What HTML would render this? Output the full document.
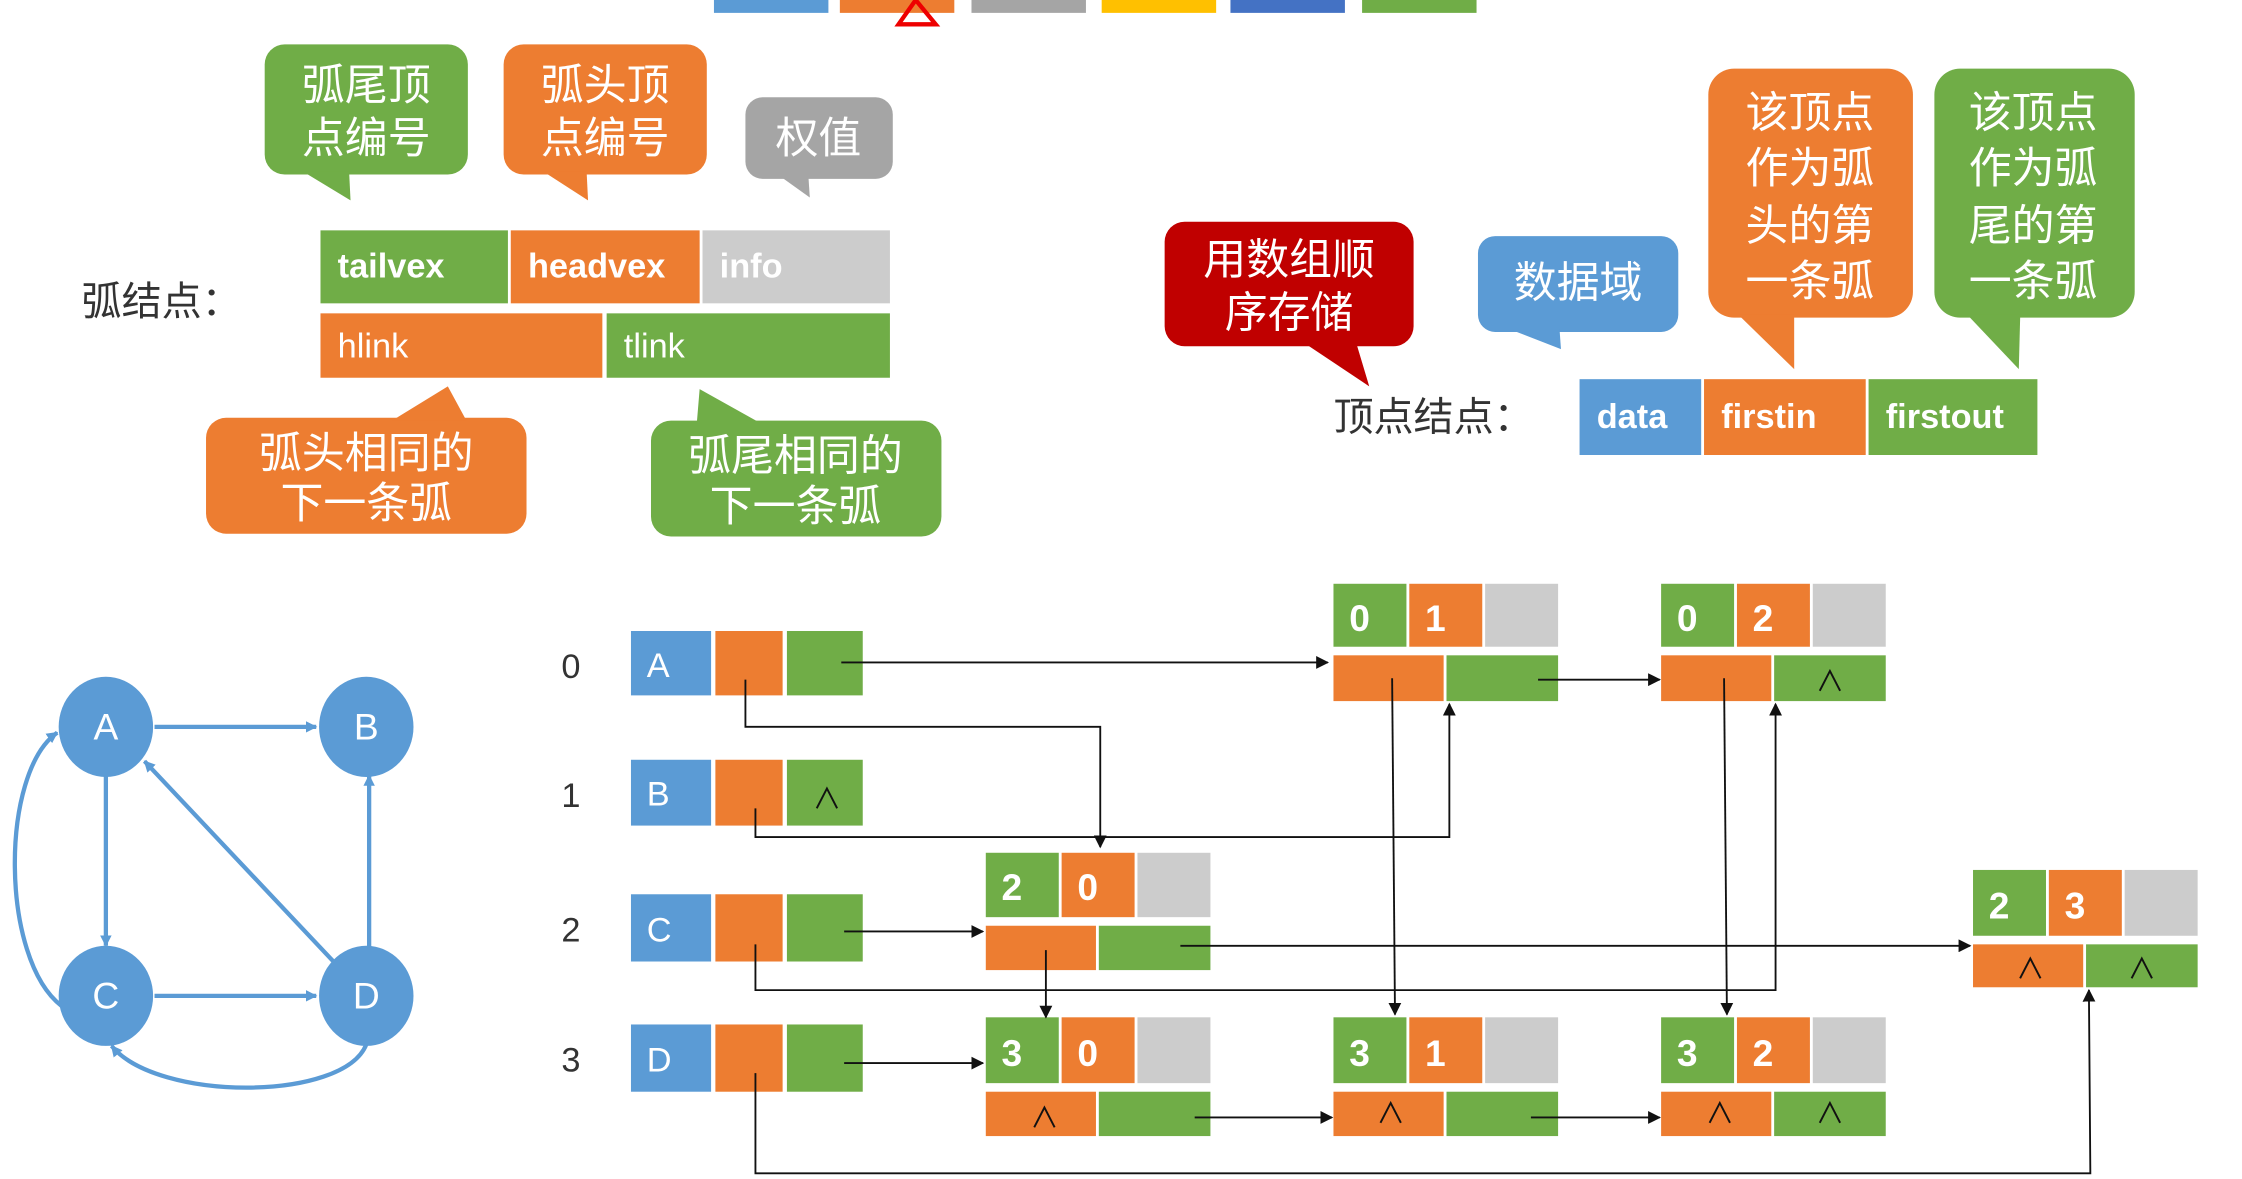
<!DOCTYPE html>
<html><head><meta charset="utf-8">
<style>
html,body{margin:0;padding:0;background:#fff;}
svg{display:block;}
text{font-family:"Liberation Sans","Noto Sans CJK SC",sans-serif;}
</style></head>
<body>
<svg width="2242" height="1179" viewBox="0 0 1567 824" preserveAspectRatio="none" xmlns="http://www.w3.org/2000/svg">
<defs>
<marker id="ar" viewBox="0 0 10 10" refX="9" refY="5" markerWidth="9" markerHeight="9" markerUnits="userSpaceOnUse" orient="auto">
<path d="M0,0 L10,5 L0,10 z" fill="#111"/></marker>
<marker id="ab" viewBox="0 0 10 10" refX="9" refY="5" markerWidth="8" markerHeight="8" markerUnits="userSpaceOnUse" orient="auto">
<path d="M0,0 L10,5 L0,10 z" fill="#5b9bd5"/></marker>
</defs>
<rect width="1567" height="824" fill="#fff"/>
<g>
<rect x="499" y="0" width="80" height="9" fill="#5b9bd5"/>
<rect x="587" y="0" width="80" height="9" fill="#ed7d31"/>
<rect x="679" y="0" width="80" height="9" fill="#a5a5a5"/>
<rect x="770" y="0" width="80" height="9" fill="#ffc000"/>
<rect x="860" y="0" width="80" height="9" fill="#4472c4"/>
<rect x="952" y="0" width="80" height="9" fill="#70ad47"/>
<path d="M628,17 L640,0 L654,17 Z" fill="none" stroke="#e00" stroke-width="3"/>
</g>

<g fill="#fff" font-size="30" text-anchor="middle">
<rect x="185" y="31" width="142" height="91" rx="14" fill="#70ad47"/>
<polygon points="212,120 244,120 245,140" fill="#70ad47"/>
<text x="256" y="70">弧尾顶</text><text x="256" y="107">点编号</text>

<rect x="352" y="31" width="142" height="91" rx="14" fill="#ed7d31"/>
<polygon points="380,120 410,120 411,140" fill="#ed7d31"/>
<text x="423" y="70">弧头顶</text><text x="423" y="107">点编号</text>

<rect x="521" y="68" width="103" height="57" rx="12" fill="#a5a5a5"/>
<polygon points="545,123 565,123 566,138" fill="#a5a5a5"/>
<text x="572" y="107">权值</text>

<rect x="144" y="292" width="224" height="81" rx="14" fill="#ed7d31"/>
<polygon points="274,294 326,294 313,270" fill="#ed7d31"/>
<text x="256" y="327">弧头相同的</text><text x="256" y="362">下一条弧</text>

<rect x="455" y="294" width="203" height="81" rx="14" fill="#70ad47"/>
<polygon points="487,296 532,296 489,272" fill="#70ad47"/>
<text x="556" y="329">弧尾相同的</text><text x="556" y="364">下一条弧</text>
</g>

<text x="57" y="220" font-size="28" fill="#333">弧结点：</text>
<g font-size="24" fill="#fff" font-weight="bold">
<rect x="224" y="161" width="131" height="51" fill="#70ad47"/>
<rect x="357" y="161" width="132" height="51" fill="#ed7d31"/>
<rect x="491" y="161" width="131" height="51" fill="#cccccc"/>
<text x="236" y="194">tailvex</text>
<text x="369" y="194">headvex</text>
<text x="503" y="194">info</text>
</g>
<g font-size="24" fill="#fff">
<rect x="224" y="219" width="197" height="45" fill="#ed7d31"/>
<rect x="424" y="219" width="198" height="45" fill="#70ad47"/>
<text x="236" y="250">hlink</text>
<text x="436" y="250">tlink</text>
</g>

<g fill="#fff" font-size="30" text-anchor="middle">
<rect x="814" y="155" width="174" height="87" rx="14" fill="#c00000"/>
<polygon points="912,240 948,240 957,270" fill="#c00000"/>
<text x="901" y="192">用数组顺</text><text x="901" y="229">序存储</text>

<rect x="1033" y="165" width="140" height="67" rx="12" fill="#5b9bd5"/>
<polygon points="1055,230 1090,230 1091,244" fill="#5b9bd5"/>
<text x="1103" y="208">数据域</text>

<rect x="1194" y="48" width="143" height="174" rx="18" fill="#ed7d31"/>
<polygon points="1215,220 1254,220 1254,258" fill="#ed7d31"/>
<text x="1265" y="89">该顶点</text><text x="1265" y="128">作为弧</text><text x="1265" y="168">头的第</text><text x="1265" y="207">一条弧</text>

<rect x="1352" y="48" width="140" height="174" rx="18" fill="#70ad47"/>
<polygon points="1375,220 1412,220 1411,258" fill="#70ad47"/>
<text x="1421" y="89">该顶点</text><text x="1421" y="128">作为弧</text><text x="1421" y="168">尾的第</text><text x="1421" y="207">一条弧</text>
</g>
<text x="932" y="301" font-size="28" fill="#333">顶点结点：</text>
<g font-size="24" fill="#fff" font-weight="bold">
<rect x="1104" y="265" width="85" height="53" fill="#5b9bd5"/>
<rect x="1191" y="265" width="113" height="53" fill="#ed7d31"/>
<rect x="1306" y="265" width="118" height="53" fill="#70ad47"/>
<text x="1116" y="299">data</text>
<text x="1203" y="299">firstin</text>
<text x="1318" y="299">firstout</text>
</g>

<g stroke="#5b9bd5" stroke-width="3" fill="none">
<line x1="108" y1="508" x2="221" y2="508" marker-end="url(#ab)"/>
<line x1="74" y1="542" x2="74" y2="661" marker-end="url(#ab)"/>
<line x1="234" y1="673" x2="101" y2="532" marker-end="url(#ab)"/>
<line x1="258" y1="662" x2="258" y2="542" marker-end="url(#ab)"/>
<line x1="108" y1="696" x2="221" y2="696" marker-end="url(#ab)"/>
<path d="M43,703 C0,670 0,540 40,512" marker-end="url(#ab)"/>
<path d="M256,730 C240,770 110,770 78,731" marker-end="url(#ab)"/>
</g>
<g fill="#5b9bd5">
<ellipse cx="74" cy="508" rx="33" ry="35"/>
<ellipse cx="256" cy="508" rx="33" ry="35"/>
<ellipse cx="74" cy="696" rx="33" ry="35"/>
<ellipse cx="256" cy="696" rx="33" ry="35"/>
</g>
<g fill="#fff" font-size="26" text-anchor="middle">
<text x="74" y="517">A</text><text x="256" y="517">B</text>
<text x="74" y="705">C</text><text x="256" y="705">D</text>
</g>

<g font-size="24" fill="#333" text-anchor="middle">
<text x="399" y="474">0</text><text x="399" y="564">1</text>
<text x="399" y="658">2</text><text x="399" y="749">3</text>
</g>

<g>
<rect x="441" y="441" width="56" height="45" fill="#5b9bd5"/><rect x="500" y="441" width="47" height="45" fill="#ed7d31"/><rect x="550" y="441" width="53" height="45" fill="#70ad47"/>
<rect x="441" y="531" width="56" height="46" fill="#5b9bd5"/><rect x="500" y="531" width="47" height="46" fill="#ed7d31"/><rect x="550" y="531" width="53" height="46" fill="#70ad47"/>
<rect x="441" y="625" width="56" height="47" fill="#5b9bd5"/><rect x="500" y="625" width="47" height="47" fill="#ed7d31"/><rect x="550" y="625" width="53" height="47" fill="#70ad47"/>
<rect x="441" y="716" width="56" height="47" fill="#5b9bd5"/><rect x="500" y="716" width="47" height="47" fill="#ed7d31"/><rect x="550" y="716" width="53" height="47" fill="#70ad47"/>
</g>
<g fill="#fff" font-size="24">
<text x="452" y="473">A</text><text x="452" y="563">B</text><text x="452" y="658">C</text><text x="452" y="749">D</text>
</g>
<text x="578" y="565" font-size="20" fill="#111" text-anchor="middle">∧</text>

<g>
<rect x="932" y="408" width="51" height="44" fill="#70ad47"/><rect x="985" y="408" width="51" height="44" fill="#ed7d31"/><rect x="1038" y="408" width="51" height="44" fill="#cccccc"/>
<rect x="932" y="458" width="77" height="32" fill="#ed7d31"/><rect x="1011" y="458" width="78" height="32" fill="#70ad47"/>
<rect x="1161" y="408" width="51" height="44" fill="#70ad47"/><rect x="1214" y="408" width="51" height="44" fill="#ed7d31"/><rect x="1267" y="408" width="51" height="44" fill="#cccccc"/>
<rect x="1161" y="458" width="77" height="32" fill="#ed7d31"/><rect x="1240" y="458" width="78" height="32" fill="#70ad47"/>
<rect x="689" y="596" width="51" height="45" fill="#70ad47"/><rect x="742" y="596" width="51" height="45" fill="#ed7d31"/><rect x="795" y="596" width="51" height="45" fill="#cccccc"/>
<rect x="689" y="647" width="77" height="31" fill="#ed7d31"/><rect x="768" y="647" width="78" height="31" fill="#70ad47"/>
<rect x="1379" y="608" width="51" height="46" fill="#70ad47"/><rect x="1432" y="608" width="51" height="46" fill="#ed7d31"/><rect x="1485" y="608" width="51" height="46" fill="#cccccc"/>
<rect x="1379" y="660" width="77" height="30" fill="#ed7d31"/><rect x="1458" y="660" width="78" height="30" fill="#70ad47"/>
<rect x="689" y="711" width="51" height="46" fill="#70ad47"/><rect x="742" y="711" width="51" height="46" fill="#ed7d31"/><rect x="795" y="711" width="51" height="46" fill="#cccccc"/>
<rect x="689" y="763" width="77" height="31" fill="#ed7d31"/><rect x="768" y="763" width="78" height="31" fill="#70ad47"/>
<rect x="932" y="711" width="51" height="46" fill="#70ad47"/><rect x="985" y="711" width="51" height="46" fill="#ed7d31"/><rect x="1038" y="711" width="51" height="46" fill="#cccccc"/>
<rect x="932" y="763" width="77" height="31" fill="#ed7d31"/><rect x="1011" y="763" width="78" height="31" fill="#70ad47"/>
<rect x="1161" y="711" width="51" height="46" fill="#70ad47"/><rect x="1214" y="711" width="51" height="46" fill="#ed7d31"/><rect x="1267" y="711" width="51" height="46" fill="#cccccc"/>
<rect x="1161" y="763" width="77" height="31" fill="#ed7d31"/><rect x="1240" y="763" width="78" height="31" fill="#70ad47"/>
</g>
<g fill="#fff" font-size="26" font-weight="bold">
<text x="943" y="441">0</text><text x="996" y="441">1</text>
<text x="1172" y="441">0</text><text x="1225" y="441">2</text>
<text x="700" y="629">2</text><text x="753" y="629">0</text>
<text x="1390" y="642">2</text><text x="1443" y="642">3</text>
<text x="700" y="745">3</text><text x="753" y="745">0</text>
<text x="943" y="745">3</text><text x="996" y="745">1</text>
<text x="1172" y="745">3</text><text x="1225" y="745">2</text>
</g>
<g fill="#111" font-size="20" text-anchor="middle">
<text x="1279" y="483">∧</text>
<text x="1419" y="684">∧</text><text x="1497" y="684">∧</text>
<text x="730" y="788">∧</text>
<text x="972" y="785">∧</text>
<text x="1202" y="785">∧</text><text x="1279" y="785">∧</text>
</g>

<g stroke="#111" stroke-width="1.3" fill="none">
<polyline points="588,463 928,463" marker-end="url(#ar)"/>
<polyline points="521,475 521,508 769,508 769,592" marker-end="url(#ar)"/>
<polyline points="528,565 528,585 1013,585 1013,492" marker-end="url(#ar)"/>
<polyline points="590,651 687,651" marker-end="url(#ar)"/>
<polyline points="528,660 528,692 1241,692 1241,492" marker-end="url(#ar)"/>
<polyline points="825,661 1377,661" marker-end="url(#ar)"/>
<polyline points="731,664 731,711" marker-end="url(#ar)"/>
<polyline points="973,474 975,709" marker-end="url(#ar)"/>
<polyline points="1205,474 1207,709" marker-end="url(#ar)"/>
<polyline points="1075,475 1160,475" marker-end="url(#ar)"/>
<polyline points="590,743 687,743" marker-end="url(#ar)"/>
<polyline points="528,750 528,820 1461,820 1460,692" marker-end="url(#ar)"/>
<polyline points="835,781 931,781" marker-end="url(#ar)"/>
<polyline points="1070,781 1160,781" marker-end="url(#ar)"/>
</g>
</svg>
</body></html>
